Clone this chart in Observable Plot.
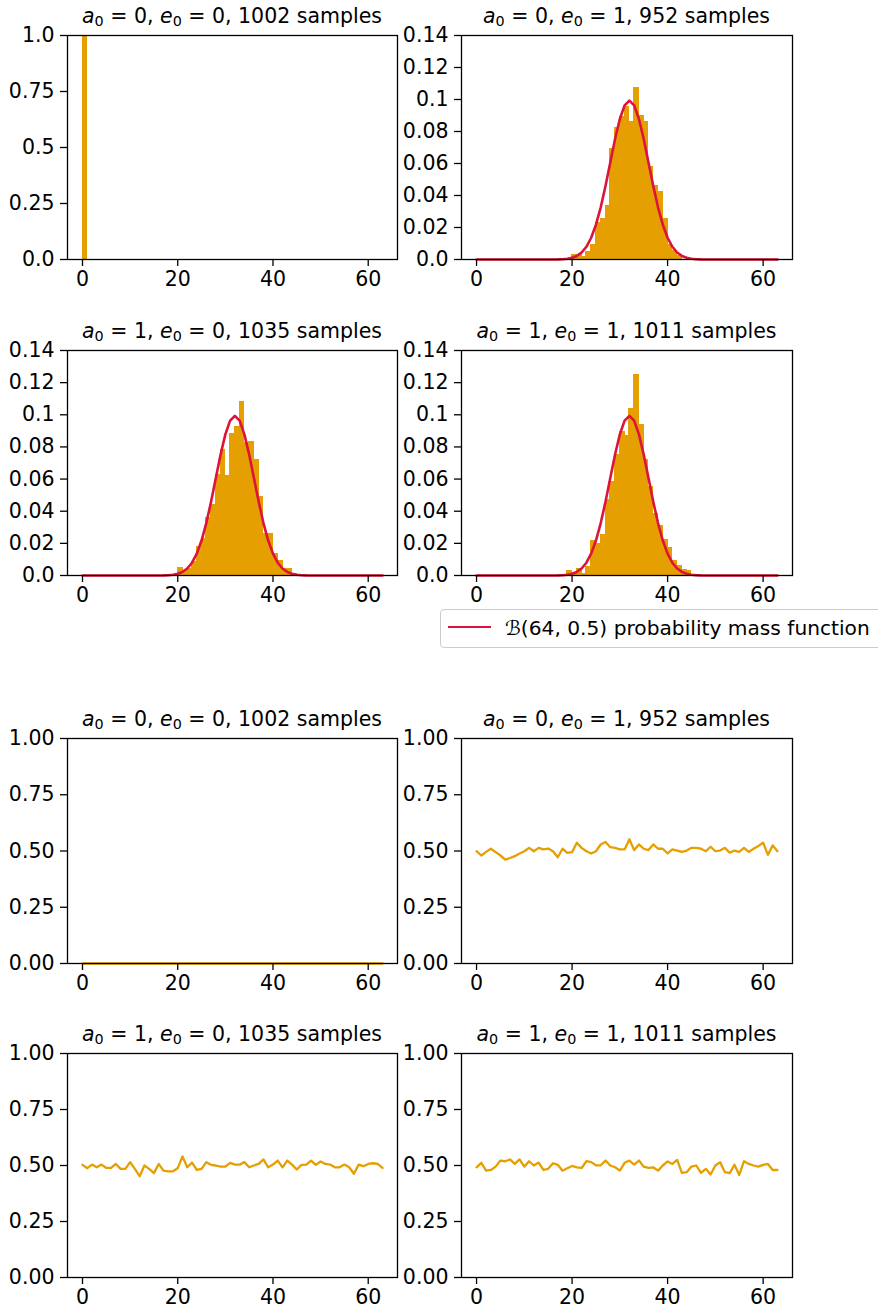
<!DOCTYPE html>
<html><head><meta charset="utf-8">
<script src="https://cdn.jsdelivr.net/npm/d3@7"></script>
<script src="https://cdn.jsdelivr.net/npm/@observablehq/plot@0.6"></script>
<style>
html,body{margin:0;padding:0;background:#fff;}
#fig{position:relative;width:878px;height:1310px;overflow:hidden;font-family:"DejaVu Sans",sans-serif;color:#000;}
.title{position:absolute;font-size:20.5px;line-height:20.5px;white-space:nowrap;transform:translateX(-50%);}
.title sub{font-size:70%;line-height:0;vertical-align:-0.22em;}
.legend{position:absolute;left:440px;top:609px;width:460px;height:39px;box-sizing:border-box;border:1px solid #cccccc;border-radius:4px;background:#fff;}
.legend .swatch{position:absolute;left:7px;top:16px;width:43px;height:0;border-top:2.5px solid #DC143C;}
.legend .label{position:absolute;left:64px;top:8px;font-size:20.2px;line-height:20px;white-space:nowrap;}
</style></head><body><div id="fig"></div>
<script>
// ---------- data ----------
const xTicks = [0, 20, 40, 60];
const panelInfo = [
  {a: 0, e: 0, n: 1002},
  {a: 0, e: 1, n: 952},
  {a: 1, e: 0, n: 1035},
  {a: 1, e: 1, n: 1011}
];
const histTicks01 = [0, 0.25, 0.5, 0.75, 1];
const histLabels01 = ["0.0", "0.25", "0.5", "0.75", "1.0"];
const histTicks = [0, 0.02, 0.04, 0.06, 0.08, 0.1, 0.12, 0.14];
const histLabels = ["0.0", "0.02", "0.04", "0.06", "0.08", "0.1", "0.12", "0.14"];
const meanTicks = [0, 0.25, 0.5, 0.75, 1];
const meanLabels = ["0.00", "0.25", "0.50", "0.75", "1.00"];

// histogram bars: first bin index and bar heights
const histStart_a0e0 = 0;
const hist_a0e0 = [1.0];
const histStart_a0e1 = 20;
const hist_a0e1 = [0.003, 0.003, 0.0015, 0.0048, 0.0093, 0.0228, 0.0255, 0.0336, 0.069, 0.082, 0.089, 0.0954, 0.0857, 0.107, 0.090, 0.0857, 0.0577, 0.046, 0.0425, 0.0253, 0.0089, 0.0052, 0.002];
const histStart_a1e0 = 20;
const hist_a1e0 = [0.0048, 0.002, 0.004, 0.0083, 0.0176, 0.0228, 0.0359, 0.0436, 0.0628, 0.0778, 0.0622, 0.0882, 0.0923, 0.108, 0.0826, 0.083, 0.0716, 0.0487, 0.0259, 0.0259, 0.0135, 0.009, 0.004, 0.004, 0.001];
const histStart_a1e1 = 19;
const hist_a1e1 = [0.0027, 0.001, 0.004, 0.001, 0.005, 0.0213, 0.0197, 0.0249, 0.0467, 0.0581, 0.0751, 0.0892, 0.0871, 0.1033, 0.125, 0.0938, 0.0716, 0.0550, 0.0384, 0.0311, 0.0224, 0.017, 0.0093, 0.0062, 0.0037, 0.003];

// B(64, 0.5) probability mass function, k = 0..63
const pmfValues = [
  0,0,0,0,0,0,0,0,0,0,0,0,0,0,0,0,
  0.00003,0.00007,0.00020,0.00047,0.00106,0.00223,0.00436,0.00795,0.01359,0.02174,0.03261,0.04589,0.06064,0.07528,0.08783,0.09633,
  0.09934,0.09633,0.08783,0.07528,0.06064,0.04589,0.03261,0.02174,0.01359,0.00795,0.00436,0.00223,0.00106,0.00047,0.00020,0.00007,
  0.00003,0,0,0,0,0,0,0,0,0,0,0,0,0,0,0
];

// per-position means, k = 0..63
const mean_a0e0 = [
  0,0,0,0,0,0,0,0,0,0,0,0,0,0,0,0,0,0,0,0,0,0,0,0,0,0,0,0,0,0,0,0,
  0,0,0,0,0,0,0,0,0,0,0,0,0,0,0,0,0,0,0,0,0,0,0,0,0,0,0,0,0,0,0,0
];
const mean_a0e1 = [
  0.499,0.480,0.496,0.510,0.495,0.480,0.462,0.469,0.477,0.489,
  0.499,0.514,0.499,0.514,0.507,0.511,0.499,0.472,0.510,0.492,
  0.495,0.537,0.514,0.499,0.489,0.499,0.529,0.540,0.517,0.514,
  0.507,0.507,0.552,0.504,0.529,0.510,0.504,0.529,0.510,0.510,
  0.489,0.507,0.502,0.496,0.502,0.514,0.514,0.510,0.499,0.519,
  0.499,0.502,0.514,0.492,0.502,0.496,0.514,0.496,0.510,0.522,
  0.537,0.483,0.525,0.499
];
const mean_a1e0 = [
  0.503,0.488,0.504,0.492,0.504,0.489,0.489,0.507,0.485,0.485,
  0.515,0.485,0.452,0.500,0.485,0.466,0.507,0.477,0.474,0.474,
  0.488,0.540,0.492,0.513,0.480,0.485,0.515,0.503,0.500,0.495,
  0.495,0.512,0.504,0.504,0.515,0.492,0.500,0.507,0.527,0.492,
  0.504,0.522,0.492,0.522,0.504,0.482,0.503,0.504,0.522,0.503,
  0.518,0.507,0.504,0.492,0.492,0.504,0.492,0.463,0.504,0.497,
  0.507,0.510,0.507,0.489
];
const mean_a1e1 = [
  0.492,0.512,0.477,0.480,0.495,0.522,0.519,0.527,0.507,0.527,
  0.495,0.519,0.500,0.513,0.480,0.485,0.510,0.503,0.477,0.488,
  0.498,0.492,0.489,0.519,0.515,0.501,0.501,0.522,0.500,0.492,
  0.477,0.512,0.522,0.504,0.522,0.495,0.489,0.492,0.477,0.500,
  0.518,0.507,0.525,0.467,0.470,0.495,0.500,0.467,0.485,0.460,
  0.500,0.515,0.470,0.466,0.503,0.458,0.519,0.507,0.500,0.495,
  0.503,0.507,0.480,0.480
];

// ---------- drawing ----------
const ORANGE = "#E69F00";
const CRIMSON = "#DC143C";
const xDomain = [-3.15, 66.15];
const fig = document.getElementById("fig");

function histRows(start, values) {
  return values.map((v, i) => ({x1: start + i, x2: start + i + 1, y: v}));
}
function lineRows(values) {
  return values.map((v, i) => ({x: i, y: v}));
}

function addPanel({col, frameTop, frameH, yDomain, yTicks, yLabels, marks, info}) {
  const width = 420;
  const marginLeft = col === 0 ? 67 : 61;
  const marginRight = col === 0 ? 23 : 28;
  const left = col === 0 ? 0 : 400;
  const mt = 10, mb = 45;
  const labelMap = new Map(yTicks.map((t, i) => [t, yLabels[i]]));
  const svg = Plot.plot({
    width, height: frameH + mt + mb,
    marginLeft, marginRight, marginTop: mt, marginBottom: mb,
    x: {domain: xDomain},
    y: {domain: yDomain},
    style: {fontFamily: '"DejaVu Sans", sans-serif', fontSize: "20.5px", color: "black", background: "transparent", overflow: "visible"},
    marks: [
      ...marks,
      Plot.frame({stroke: "black", strokeWidth: 1.3}),
      Plot.axisX({ticks: xTicks, tickSize: 7, tickPadding: 5, tickFormat: d => String(d), label: null, strokeWidth: 1.3}),
      Plot.axisY({ticks: yTicks, tickSize: 7, tickPadding: 6, tickFormat: d => labelMap.get(d), label: null, strokeWidth: 1.3})
    ]
  });
  svg.style.position = "absolute";
  svg.style.left = left + "px";
  svg.style.top = (frameTop - mt) + "px";
  fig.appendChild(svg);

  const cx = col === 0 ? (67 + 397) / 2 : (461 + 792) / 2;
  const t = document.createElement("div");
  t.className = "title";
  t.style.left = cx + "px";
  t.style.top = (frameTop - 12 - 17) + "px";
  t.innerHTML = `<i>a</i><sub>0</sub> = ${info.a}, <i>e</i><sub>0</sub> = ${info.e}, ${info.n} samples`;
  fig.appendChild(t);
}

const histSets = [
  [histStart_a0e0, hist_a0e0],
  [histStart_a0e1, hist_a0e1],
  [histStart_a1e0, hist_a1e0],
  [histStart_a1e1, hist_a1e1]
];
const meanSets = [mean_a0e0, mean_a0e1, mean_a1e0, mean_a1e1];
const histFrames = [{top: 35, h: 224}, {top: 350, h: 225}];
const meanFrames = [{top: 738, h: 225}, {top: 1053, h: 224}];

histSets.forEach(([start, values], i) => {
  const row = Math.floor(i / 2), col = i % 2;
  const first = i === 0;
  const marks = [Plot.rectY(histRows(start, values), {x1: "x1", x2: "x2", y: "y", fill: ORANGE, stroke: ORANGE, strokeWidth: 1, inset: 0, shapeRendering: "crispEdges"})];
  if (!first) marks.push(Plot.line(lineRows(pmfValues), {x: "x", y: "y", stroke: CRIMSON, strokeWidth: 2.6}));
  addPanel({
    col, frameTop: histFrames[row].top, frameH: histFrames[row].h,
    yDomain: first ? [0, 1] : [0, 0.14],
    yTicks: first ? histTicks01 : histTicks,
    yLabels: first ? histLabels01 : histLabels,
    marks, info: panelInfo[i]
  });
});

meanSets.forEach((values, i) => {
  const row = Math.floor(i / 2), col = i % 2;
  addPanel({
    col, frameTop: meanFrames[row].top, frameH: meanFrames[row].h,
    yDomain: [0, 1], yTicks: meanTicks, yLabels: meanLabels,
    marks: [Plot.line(lineRows(values), {x: "x", y: "y", stroke: ORANGE, strokeWidth: 2.3})],
    info: panelInfo[i]
  });
});

const lg = document.createElement("div");
lg.className = "legend";
lg.innerHTML = `<span class="swatch"></span><span class="label">ℬ(64, 0.5) probability mass function</span>`;
fig.appendChild(lg);
</script>
</body></html>
